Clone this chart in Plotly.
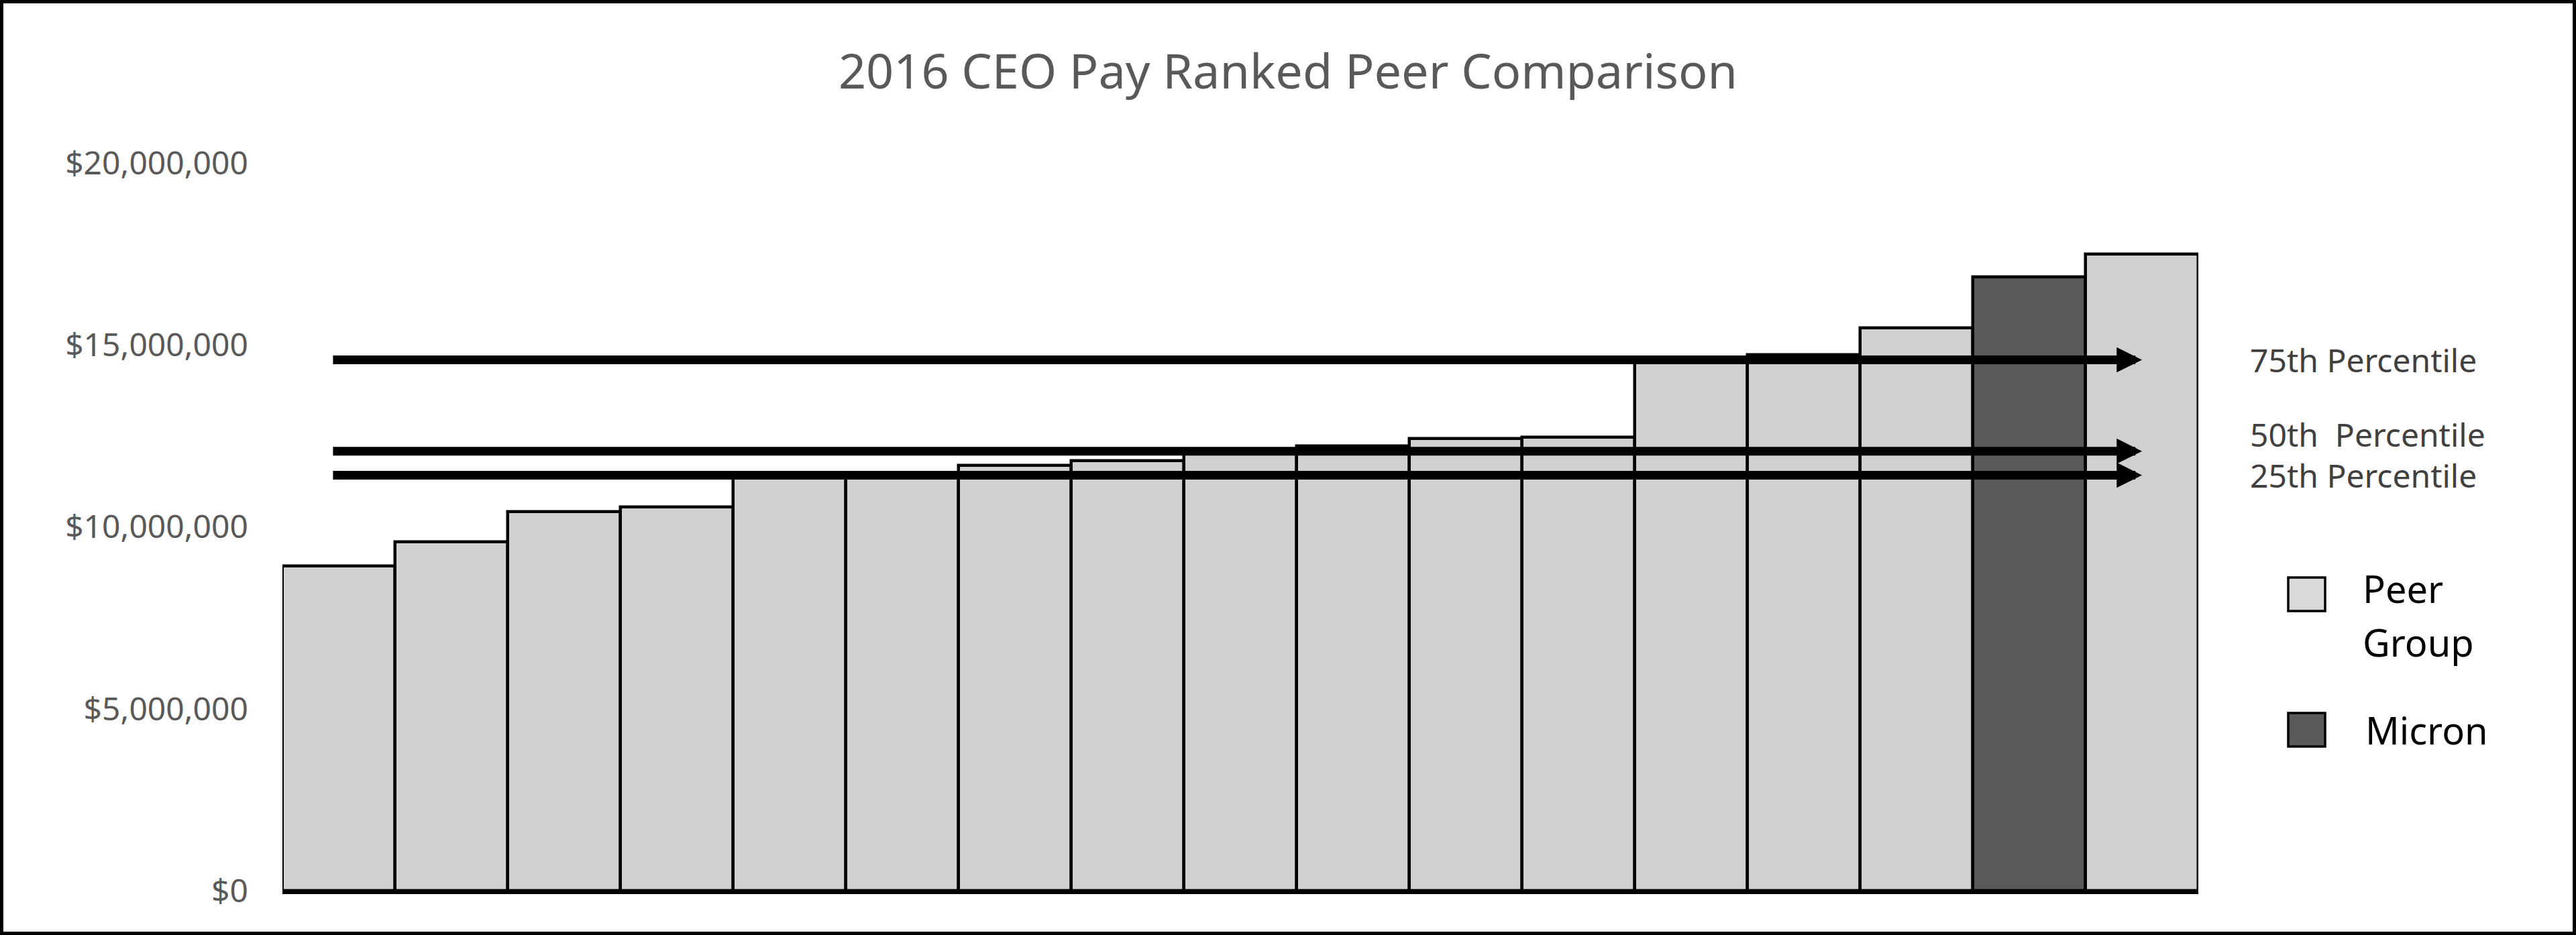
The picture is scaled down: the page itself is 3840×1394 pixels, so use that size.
import plotly.graph_objects as go

# ---------------- data ----------------
peers = ["Peer 1", "Peer 2", "Peer 3", "Peer 4", "Peer 5", "Peer 6", "Peer 7", "Peer 8",
         "Peer 9", "Peer 10", "Peer 11", "Peer 12", "Peer 13", "Peer 14", "Peer 15",
         "Micron", "Peer 16"]
pay = [8930000, 9580000, 10420000, 10550000, 11360000, 11360000, 11680000, 11810000,
       12020000, 12230000, 12420000, 12470000, 14520000, 14730000, 15460000,
       16860000, 17500000]
group = ["Peer Group"] * 15 + ["Micron"] + ["Peer Group"]

percentile_labels = ["75th Percentile", "50th  Percentile", "25th Percentile"]
percentile_values = [14590000, 12080000, 11420000]

legend_labels = ["Peer Group", "Micron"]
title_text = "2016 CEO Pay Ranked Peer Comparison"
y_ticks = [0, 5000000, 10000000, 15000000, 20000000]

# ---------------- style ----------------
W, H = 3840, 1394
ML, MR, MT, MB = 421, 563, 243, 66
PW, PH = W - ML - MR, H - MT - MB
FONT = "Noto Sans"
colors = {"Peer Group": "#d0d0d0", "Micron": "#595959"}

fig = go.Figure()
fig.add_trace(go.Bar(
    x=peers, y=pay,
    marker=dict(color=[colors[g] for g in group], line=dict(color="black", width=4.5)),
    width=1.0, showlegend=False, hoverinfo="x+y",
))

annotations = []
shapes = []

# percentile arrows (drawn in data coordinates)
arrow_start, arrow_end = -0.06, 16.0
label_dy = [0, 25, 0]
for lab, val, dy in zip(percentile_labels, percentile_values, label_dy):
    annotations.append(dict(
        x=arrow_end, y=val, xref="x", yref="y",
        ax=arrow_start, ay=val, axref="x", ayref="y",
        text="", showarrow=True, arrowhead=2, arrowwidth=13, arrowsize=0.58,
        arrowcolor="black",
    ))
    annotations.append(dict(
        x=(3352 - ML) / PW, y=val, xref="paper", yref="y", yshift=dy,
        text=lab, showarrow=False, xanchor="left", yanchor="middle",
        font=dict(family=FONT, size=48, color="#404040"),
    ))

# custom legend
leg_rows = [(0.4304, 0.3843), (0.2442, 0.1982)]
for (y1, y0), lab in zip(leg_rows, legend_labels):
    shapes.append(dict(
        type="rect", xref="paper", yref="paper",
        x0=(3411 - ML) / PW, x1=(3466 - ML) / PW, y0=y0, y1=y1,
        fillcolor="#d9d9d9" if lab == "Peer Group" else colors[lab],
        line=dict(color="black", width=3.5),
    ))
annotations.append(dict(x=(3520 - ML) / PW, y=0.4157, xref="paper", yref="paper",
                        text="Peer", showarrow=False, xanchor="left", yanchor="middle",
                        font=dict(family=FONT, size=56, color="black")))
annotations.append(dict(x=(3520 - ML) / PW, y=0.3419, xref="paper", yref="paper",
                        text="Group", showarrow=False, xanchor="left", yanchor="middle",
                        font=dict(family=FONT, size=56, color="black")))
annotations.append(dict(x=(3524 - ML) / PW, y=0.2212, xref="paper", yref="paper",
                        text="Micron", showarrow=False, xanchor="left", yanchor="middle",
                        font=dict(family=FONT, size=56, color="black")))

# outer frame
shapes.append(dict(type="rect", xref="paper", yref="paper",
                   x0=-ML / PW, x1=1 + MR / PW, y0=-MB / PH, y1=1 + MT / PH,
                   line=dict(color="black", width=10), fillcolor="rgba(0,0,0,0)"))

fig.update_layout(
    width=W, height=H,
    margin=dict(l=ML, r=MR, t=MT, b=MB, pad=0),
    paper_bgcolor="white", plot_bgcolor="white",
    title=dict(text=title_text, x=0.5, xref="container", xanchor="center",
               y=1 - 107 / H, yref="container", yanchor="middle",
               font=dict(family=FONT, size=72, color="#595959")),
    xaxis=dict(range=[-0.5, 16.5], showticklabels=False, showgrid=False, zeroline=False,
               showline=True, linecolor="black", linewidth=4.5, ticks=""),
    yaxis=dict(range=[0, 20000000], tickvals=y_ticks, tickformat="$,.0f",
               showgrid=False, zeroline=False, showline=False, ticks="",
               ticklabelstandoff=50,
               tickfont=dict(family=FONT, size=48, color="#595959")),
    bargap=0,
    annotations=annotations,
    shapes=shapes,
    font=dict(family=FONT),
)

fig.write_html(
    "out.html",
    config={"displayModeBar": False},
    post_script="document.body.style.margin='0';document.body.style.overflow='hidden';",
)
